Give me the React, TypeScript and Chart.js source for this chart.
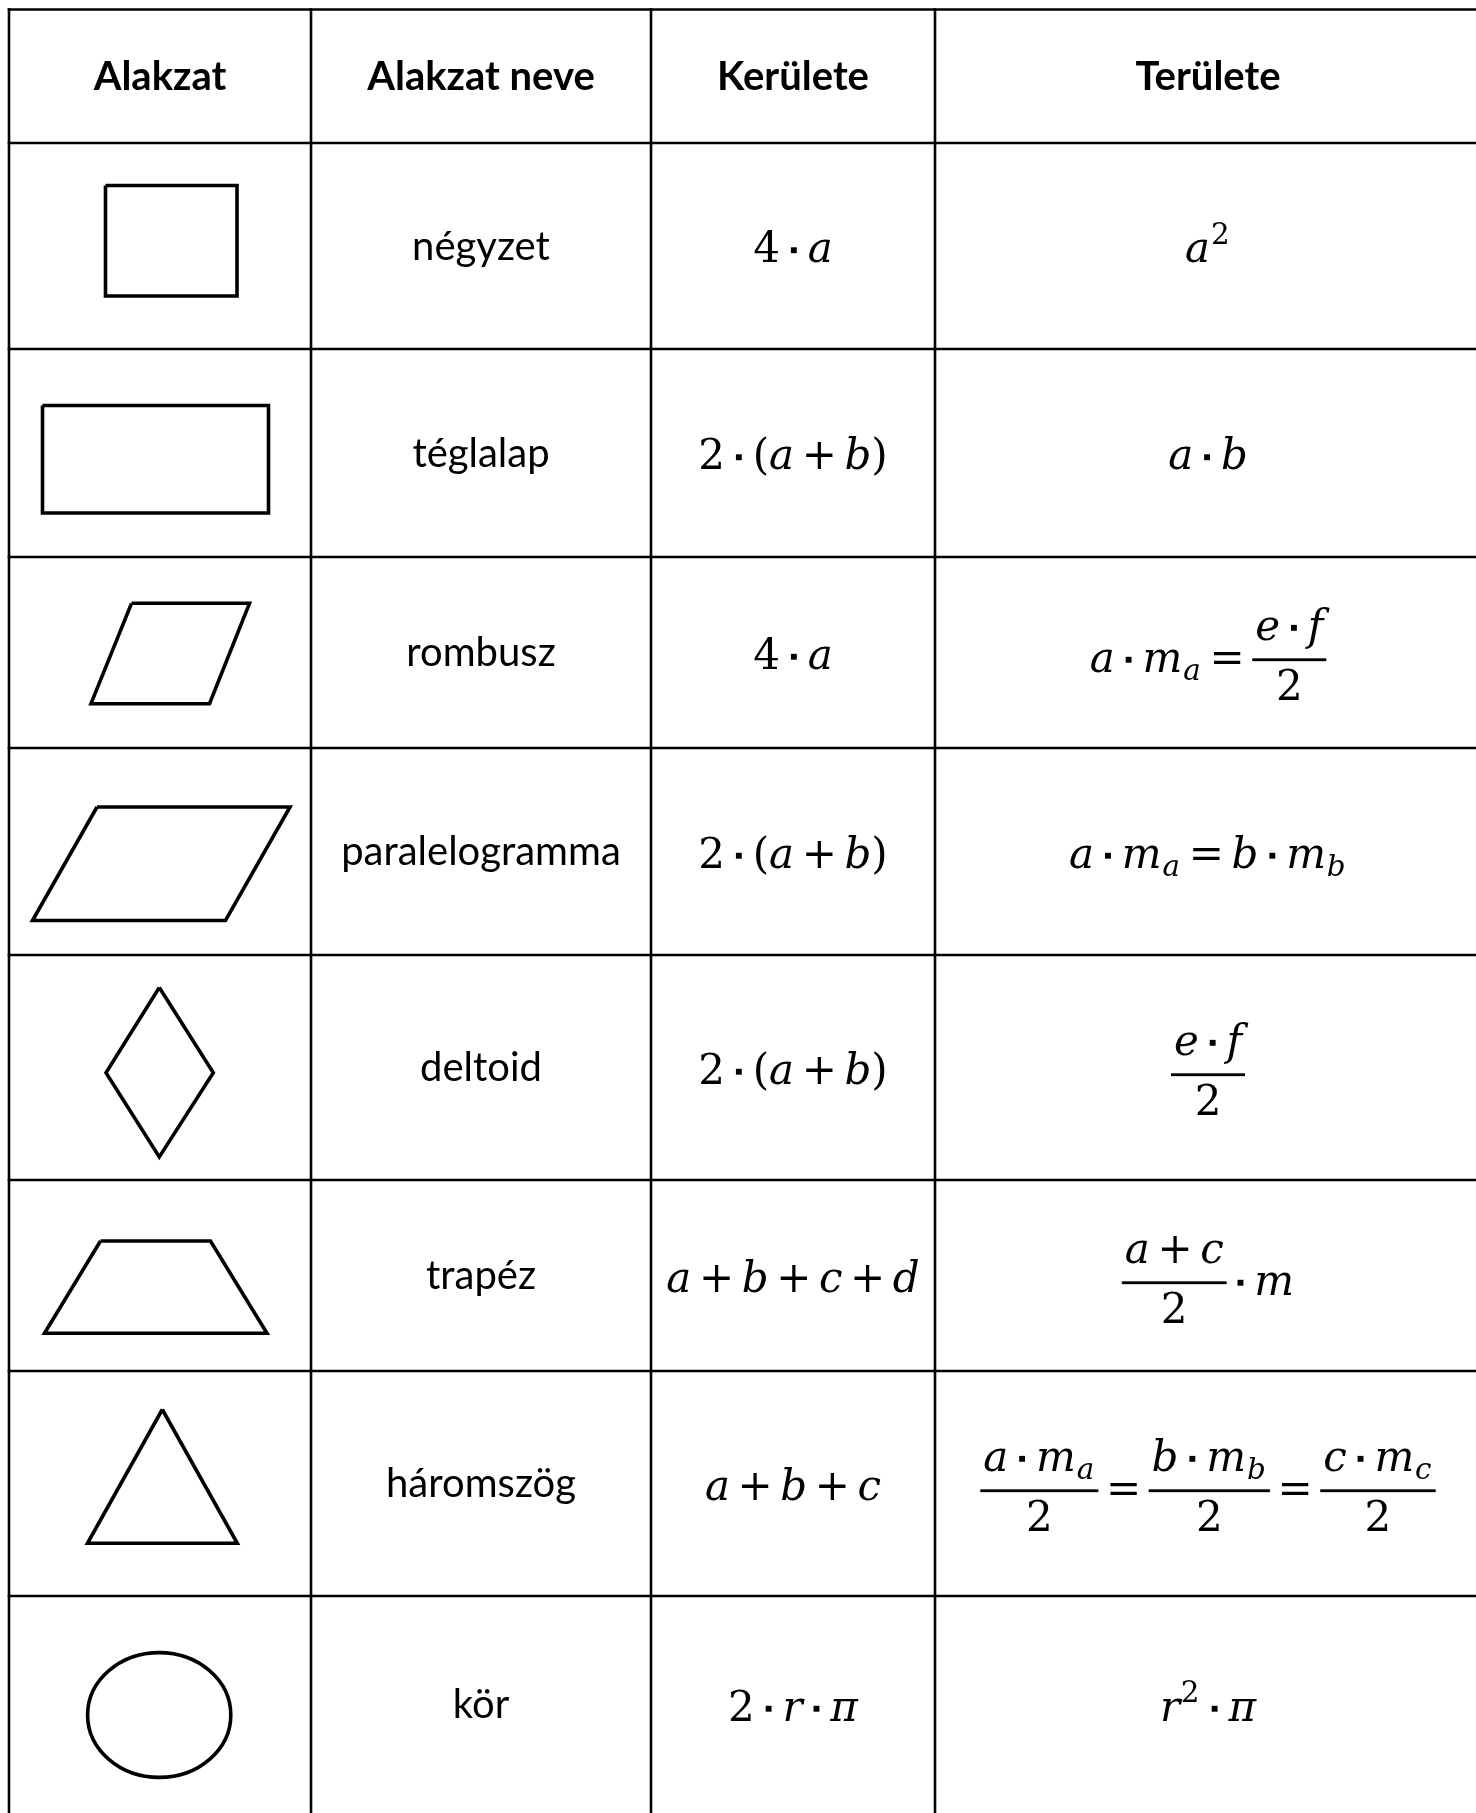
import React, { useEffect, useRef } from "react";
import { Chart, registerables } from "chart.js";

Chart.register(...registerables);

const CANVAS_W = 1476;
const CANVAS_H = 1813;

// ---- table data ----
const columnEdges = [9, 311, 651, 935, 1481];
const rowEdges = [9.5, 143, 349, 557, 748, 955, 1180, 1371, 1596, 1813];

const headers = ["Alakzat", "Alakzat neve", "Kerülete", "Területe"];
const shapeNames = [
  "négyzet",
  "téglalap",
  "rombusz",
  "paralelogramma",
  "deltoid",
  "trapéz",
  "háromszög",
  "kör",
];
// mini markup: letters italic, _x subscript, ^x superscript, {num/den} fraction
const perimeters = ["4·a", "2·(a+b)", "4·a", "2·(a+b)", "2·(a+b)", "a+b+c+d", "a+b+c", "2·r·π"];
const areas = [
  "a^2",
  "a·b",
  "a·m_a={e·f/2}",
  "a·m_a=b·m_b",
  "{e·f/2}",
  "{a+c/2}·m",
  "{a·m_a/2}={b·m_b/2}={c·m_c/2}",
  "r^2·π",
];

// ---- shape outlines (chart units) ----
const squarePts = [[105.5, 185.5], [237, 185.5], [237, 296], [105.5, 296]];
const rectanglePts = [[42.5, 405.5], [268.5, 405.5], [268.5, 513], [42.5, 513]];
const rhombusPts = [[131.5, 603.3], [249.5, 603.3], [209.5, 703.7], [91, 703.7]];
const parallelogramPts = [[97, 807], [290, 807], [225.5, 920.5], [32.5, 920.5]];
const deltoidPts = [[159.3, 987.5], [213.3, 1072.7], [159.3, 1157], [106, 1072.7]];
const trapezoidPts = [[100.5, 1241], [210.5, 1241], [267, 1333.3], [44.5, 1333.3]];
const trianglePts = [[162.3, 1409.5], [237.3, 1543.3], [87.5, 1543.3]];
const circleShape = { cx: 159.2, cy: 1715, rx: 71.6, ry: 62.4 };

const polygons = [squarePts, rectanglePts, rhombusPts, parallelogramPts, deltoidPts, trapezoidPts, trianglePts];

// ---- styles ----
const TEXT_FONT = "Lato";
const TEXT_SIZE = 40;
const MATH_FONT = '"DejaVu Serif"';
const MATH_SIZE = 42;
const GRID_WIDTH = 2.6;
const SHAPE_WIDTH = 3.6;

// ---- math layout ----
type MNode =
  | { k: "glyph"; ch: string; italic: boolean }
  | { k: "op"; ch: string }
  | { k: "frac"; num: MNode[]; den: MNode[] }
  | { k: "script"; base: MNode; sub?: MNode; sup?: MNode };

function parseFormula(src: string): MNode[] {
  let i = 0;
  const atom = (c: string): MNode => {
    if (c === "·" || c === "+" || c === "=") return { k: "op", ch: c };
    if (/[a-zπ]/.test(c)) return { k: "glyph", ch: c, italic: true };
    return { k: "glyph", ch: c, italic: false };
  };
  const seq = (stop: string): MNode[] => {
    const out: MNode[] = [];
    while (i < src.length && !(stop.length > 0 && stop.includes(src[i]))) {
      const c = src[i];
      if (c === "{") {
        i++;
        const num = seq("/");
        i++;
        const den = seq("}");
        i++;
        out.push({ k: "frac", num, den });
      } else if (c === "_" || c === "^") {
        const arg = atom(src[i + 1]);
        i += 2;
        const prev = out.pop() as MNode;
        const s: any = prev.k === "script" ? prev : { k: "script", base: prev };
        if (c === "_") s.sub = arg;
        else s.sup = arg;
        out.push(s);
      } else {
        out.push(atom(c));
        i++;
      }
    }
    return out;
  };
  return seq("");
}

const AXIS = 0.28;
const NUM_SHIFT = 0.48;
const DEN_SHIFT = 0.97;
const BAR_T = 0.068;
const FRAC_PAD = 0.07;
const SCRIPT_SCALE = 0.7;
const SUB_SHIFT = 0.2;
const SUP_SHIFT = 0.44;
const OP_PAD = 0.18;
const DOT_BOX = 0.66;
const DOT_SIZE = 0.14;

const mathFont = (size: number, italic: boolean) => `${italic ? "italic " : ""}${size}px ${MATH_FONT}`;

function nodeWidth(ctx: CanvasRenderingContext2D, n: MNode, size: number): number {
  if (n.k === "glyph") {
    ctx.font = mathFont(size, n.italic);
    return ctx.measureText(n.ch).width;
  }
  if (n.k === "op") {
    if (n.ch === "·") return size * DOT_BOX;
    ctx.font = mathFont(size, false);
    return ctx.measureText(n.ch).width + 2 * size * OP_PAD;
  }
  if (n.k === "frac") {
    return Math.max(seqWidth(ctx, n.num, size), seqWidth(ctx, n.den, size)) + 2 * size * FRAC_PAD;
  }
  const bw = nodeWidth(ctx, n.base, size);
  const ss = size * SCRIPT_SCALE;
  const sw = Math.max(n.sub ? nodeWidth(ctx, n.sub, ss) : 0, n.sup ? nodeWidth(ctx, n.sup, ss) : 0);
  return bw + sw + size * 0.05;
}

function seqWidth(ctx: CanvasRenderingContext2D, nodes: MNode[], size: number): number {
  return nodes.reduce((s, n) => s + nodeWidth(ctx, n, size), 0);
}

function drawNode(ctx: CanvasRenderingContext2D, n: MNode, size: number, x: number, base: number) {
  if (n.k === "glyph") {
    ctx.font = mathFont(size, n.italic);
    ctx.fillText(n.ch, x, base);
    return;
  }
  if (n.k === "op") {
    if (n.ch === "·") {
      const w = size * DOT_BOX;
      const d = size * DOT_SIZE;
      ctx.fillRect(x + w / 2 - d / 2, base - size * AXIS - d / 2, d, d);
      return;
    }
    ctx.font = mathFont(size, false);
    ctx.fillText(n.ch, x + size * OP_PAD, base);
    return;
  }
  if (n.k === "frac") {
    const w = nodeWidth(ctx, n, size);
    const barY = base - size * AXIS;
    const t = size * BAR_T;
    ctx.fillRect(x, barY - t / 2, w, t);
    const nw = seqWidth(ctx, n.num, size);
    const dw = seqWidth(ctx, n.den, size);
    drawSeq(ctx, n.num, size, x + (w - nw) / 2, barY - size * NUM_SHIFT);
    drawSeq(ctx, n.den, size, x + (w - dw) / 2, barY + size * DEN_SHIFT);
    return;
  }
  const bw = nodeWidth(ctx, n.base, size);
  drawNode(ctx, n.base, size, x, base);
  const ss = size * SCRIPT_SCALE;
  const sx = x + bw + size * 0.02;
  if (n.sub) drawNode(ctx, n.sub, ss, sx, base + size * SUB_SHIFT);
  if (n.sup) drawNode(ctx, n.sup, ss, sx, base - size * SUP_SHIFT);
}

function drawSeq(ctx: CanvasRenderingContext2D, nodes: MNode[], size: number, x: number, base: number) {
  let cx = x;
  for (const n of nodes) {
    drawNode(ctx, n, size, cx, base);
    cx += nodeWidth(ctx, n, size);
  }
}

function drawFormula(ctx: CanvasRenderingContext2D, src: string, cx: number, cy: number) {
  const nodes = parseFormula(src);
  const hasFrac = nodes.some((n) => n.k === "frac");
  const w = seqWidth(ctx, nodes, MATH_SIZE);
  const base = cy + (hasFrac ? 19 : 16);
  drawSeq(ctx, nodes, MATH_SIZE, cx - w / 2, base);
}

// ---- chart helpers ----
const toXY = (pts: number[][]) => [...pts, pts[0]].map(([x, y]) => ({ x, y }));

const lineDataset = (data: { x: number; y: number }[], width: number, cap: CanvasLineCap) => ({
  data,
  showLine: true,
  borderColor: "#000000",
  backgroundColor: "#000000",
  borderWidth: width,
  pointRadius: 0,
  pointHoverRadius: 0,
  tension: 0,
  fill: false,
  borderJoinStyle: "miter" as CanvasLineJoin,
  borderCapStyle: cap,
});

const tablePlugin = {
  id: "tableText",
  afterDatasetsDraw(chart: any) {
    const { ctx, scales } = chart;
    const xs = scales.x;
    const ys = scales.y;
    const px = (v: number) => xs.getPixelForValue(v);
    const py = (v: number) => ys.getPixelForValue(v);
    ctx.save();
    ctx.fillStyle = "#000000";

    // ellipse for "kör"
    const ecx = px(circleShape.cx);
    const ecy = py(circleShape.cy);
    ctx.beginPath();
    ctx.ellipse(
      ecx,
      ecy,
      Math.abs(px(circleShape.cx + circleShape.rx) - ecx),
      Math.abs(py(circleShape.cy + circleShape.ry) - ecy),
      0,
      0,
      Math.PI * 2
    );
    ctx.lineWidth = SHAPE_WIDTH;
    ctx.strokeStyle = "#000000";
    ctx.stroke();

    const colC = (c: number) => px((columnEdges[c] + columnEdges[c + 1]) / 2);
    const rowC = (r: number) => py((rowEdges[r] + rowEdges[r + 1]) / 2);

    // header row
    ctx.textBaseline = "alphabetic";
    ctx.textAlign = "center";
    ctx.font = `bold ${TEXT_SIZE}px ${TEXT_FONT}`;
    headers.forEach((h, c) => ctx.fillText(h, colC(c), rowC(0) + 13.5));

    // names
    ctx.font = `${TEXT_SIZE}px ${TEXT_FONT}`;
    shapeNames.forEach((s, r) => ctx.fillText(s, colC(1), rowC(r + 1) + 13.5));

    // formulas
    ctx.textAlign = "left";
    perimeters.forEach((f, r) => drawFormula(ctx, f, colC(2), rowC(r + 1)));
    areas.forEach((f, r) => drawFormula(ctx, f, colC(3), rowC(r + 1)));
    ctx.restore();
  },
};

export default function App() {
  const canvasRef = useRef<HTMLCanvasElement | null>(null);

  useEffect(() => {
    document.body.style.margin = "0";
    document.body.style.overflow = "hidden";
    const canvas = canvasRef.current;
    if (!canvas) return;

    const datasets: any[] = [];
    // horizontal grid lines (no bottom line: table continues below)
    rowEdges.slice(0, -1).forEach((y) => {
      datasets.push(lineDataset([{ x: columnEdges[0], y }, { x: CANVAS_W, y }], GRID_WIDTH, "square"));
    });
    // vertical grid lines (right border is off-canvas)
    columnEdges.slice(0, -1).forEach((x) => {
      datasets.push(lineDataset([{ x, y: rowEdges[0] }, { x, y: CANVAS_H }], GRID_WIDTH, "square"));
    });
    polygons.forEach((p) => datasets.push(lineDataset(toXY(p), SHAPE_WIDTH, "butt")));

    const chart = new Chart(canvas, {
      type: "scatter",
      data: { datasets },
      options: {
        animation: false,
        responsive: false,
        maintainAspectRatio: false,
        events: [],
        layout: { padding: 0 },
        plugins: { legend: { display: false }, tooltip: { enabled: false } },
        scales: {
          x: { type: "linear", min: 0, max: CANVAS_W, display: false },
          y: { type: "linear", min: 0, max: CANVAS_H, reverse: true, display: false },
        },
      },
      plugins: [tablePlugin],
    } as any);

    return () => chart.destroy();
  }, []);

  return (
    <canvas
      ref={canvasRef}
      width={CANVAS_W}
      height={CANVAS_H}
      style={{ display: "block", width: CANVAS_W, height: CANVAS_H, background: "#ffffff" }}
    />
  );
}
